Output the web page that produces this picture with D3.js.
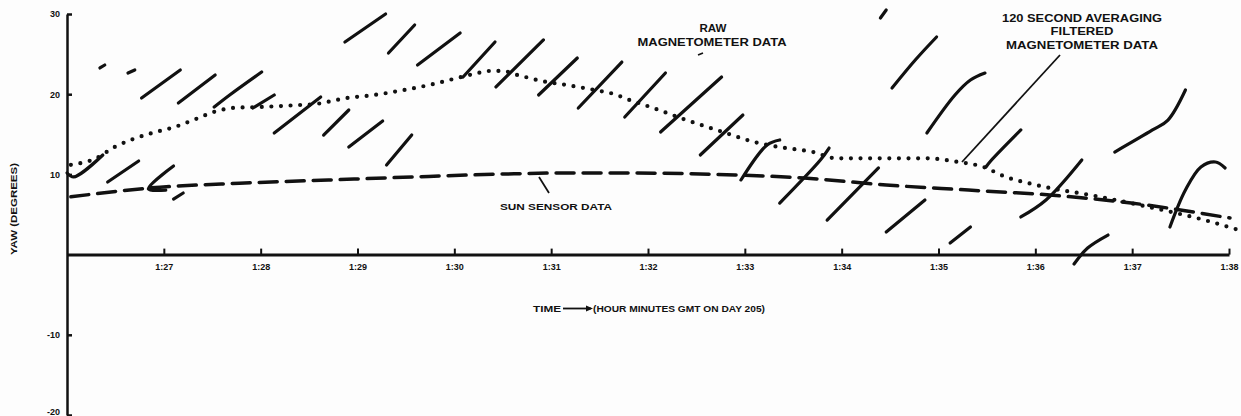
<!DOCTYPE html>
<html>
<head>
<meta charset="utf-8">
<script src="https://cdn.jsdelivr.net/npm/d3@7"></script>
<style>
  html, body { margin: 0; padding: 0; background: #fdfdfd; }
  svg { display: block; }
  text { font-family: "Liberation Sans", Arial, sans-serif; font-weight: bold; fill: #111; }
</style>
</head>
<body>
<svg id="chart" width="1241" height="416"></svg>
<script>
// ---- data (time = minutes after 1:00 GMT, yaw in degrees) ----
const xTickValues = [27, 28, 29, 30, 31, 32, 33, 34, 35, 36, 37, 38];
const xTickLabels = ["1:27", "1:28", "1:29", "1:30", "1:31", "1:32", "1:33", "1:34", "1:35", "1:36", "1:37", "1:38"];
const yTickValues = [30, 20, 10, -10, -20];
const yTickLabels = ["30", "20", "10", "-10", "-20"];

// 120 second averaging filtered magnetometer data (dotted)
const filteredTime = [26.04, 26.30, 26.49, 26.66, 26.89, 27.11, 27.33, 27.52, 27.73, 27.99, 28.32, 28.58, 28.88, 29.17, 29.47, 29.76, 30.09, 30.23, 30.37, 30.50, 30.65, 30.78, 30.88, 31.13, 31.46, 31.68, 31.76, 32.05, 32.39, 32.77, 33.11, 33.36, 33.70, 33.95, 34.46, 34.88, 35.18, 35.47, 35.69, 35.93, 36.15, 36.58, 36.99, 37.41, 37.75, 38.09];
const filteredYaw  = [11.2, 12.0, 13.4, 14.3, 15.2, 15.9, 16.9, 17.8, 18.3, 18.4, 18.6, 18.8, 19.5, 19.9, 20.5, 21.2, 22.2, 22.6, 22.9, 22.9, 22.4, 22.0, 21.7, 21.2, 20.5, 19.9, 19.5, 18.3, 16.8, 15.3, 14.0, 13.4, 12.8, 12.0, 12.0, 12.0, 11.6, 10.9, 9.7, 8.9, 8.3, 7.4, 6.4, 5.3, 4.3, 3.1];

// sun sensor data (dashed)
const sunTime = [26.04, 26.85, 27.78, 28.70, 29.61, 30.53, 31.09, 31.71, 32.90, 33.61, 34.46, 35.31, 36.15, 36.99, 38.01];
const sunYaw  = [7.2, 8.3, 8.9, 9.3, 9.7, 10.05, 10.17, 10.17, 9.93, 9.55, 8.68, 8.05, 7.43, 6.43, 4.56];

// raw magnetometer data: individual pen strokes, each a list of [time, yaw]
const rawStrokes = [
  [[26.00, 10.17], [26.07, 9.68], [26.37, 12.42]],
  [[26.42, 9.05], [26.74, 11.67]],
  [[27.10, 11.05], [26.84, 8.18], [27.02, 8.05]],
  [[27.10, 6.93], [27.20, 7.68]],
  [[26.34, 23.27], [26.39, 23.64]],
  [[26.63, 22.64], [26.70, 23.02]],
  [[26.77, 19.53], [27.17, 23.02]],
  [[27.15, 18.90], [27.53, 22.39]],
  [[27.52, 18.40], [27.68, 19.90], [28.01, 22.77]],
  [[27.92, 18.28], [28.14, 19.90]],
  [[28.14, 15.16], [28.62, 19.65]],
  [[28.65, 14.91], [28.91, 18.03]],
  [[28.91, 13.42], [29.26, 16.66]],
  [[29.30, 11.17], [29.56, 14.91]],
  [[28.87, 26.51], [29.29, 30.00]],
  [[29.32, 25.14], [29.59, 28.63]],
  [[29.62, 23.64], [30.06, 27.63]],
  [[30.09, 22.14], [30.42, 26.51]],
  [[30.43, 20.90], [30.92, 26.76]],
  [[30.87, 19.90], [31.27, 24.51]],
  [[31.28, 18.28], [31.73, 24.01]],
  [[31.76, 17.16], [32.18, 22.64]],
  [[32.13, 15.29], [32.76, 22.14]],
  [[32.54, 12.42], [32.98, 17.41]],
  [[32.96, 9.30], [33.23, 13.67], [33.36, 14.29]],
  [[33.36, 6.43], [33.78, 11.80], [33.87, 13.29]],
  [[33.85, 4.31], [34.38, 10.80]],
  [[34.46, 2.82], [34.86, 6.81]],
  [[35.12, 1.45], [35.33, 3.44]],
  [[34.52, 20.77], [34.76, 24.26], [34.98, 27.13]],
  [[34.88, 15.16], [35.17, 19.90], [35.33, 21.77], [35.48, 22.64]],
  [[34.40, 29.50], [34.46, 30.50]],
  [[35.49, 10.92], [35.53, 11.55], [35.85, 15.54]],
  [[35.85, 4.69], [36.11, 6.81], [36.48, 11.80]],
  [[36.40, -1.17], [36.54, 0.82], [36.75, 2.44]],
  [[36.82, 12.79], [37.21, 15.54], [37.37, 16.78], [37.55, 20.52]],
  [[37.39, 3.44], [37.55, 8.05], [37.71, 10.92], [37.86, 11.55], [37.96, 10.80]]
];

// annotations
const labelRaw = ["RAW", "MAGNETOMETER DATA"];
const labelFiltered = ["120 SECOND AVERAGING", "FILTERED", "MAGNETOMETER DATA"];
const labelSun = "SUN SENSOR DATA";
const xTitleLeft = "TIME";
const xTitleRight = "(HOUR MINUTES GMT ON DAY 205)";
const yTitle = "YAW (DEGREES)";

// ---- drawing ----
const svg = d3.select("#chart");
const ink = "#111";
const x = d3.scaleLinear().domain([26, 38]).range([67, 1229]);
const y = d3.scaleLinear().domain([-20, 30]).range([415, 14]);

// axes
const xAxis = d3.axisBottom(x)
  .tickValues(xTickValues)
  .tickFormat((d, i) => xTickLabels[i])
  .tickSizeInner(-6).tickSizeOuter(0).tickPadding(9);
const gx = svg.append("g").attr("transform", `translate(0,${y(0)})`).call(xAxis);
gx.select(".domain").attr("stroke", ink).attr("stroke-width", 3);
gx.selectAll(".tick line").attr("stroke", ink).attr("stroke-width", 2);
gx.selectAll(".tick text").attr("font-size", 9).attr("fill", ink).attr("font-family", "Liberation Sans").attr("font-weight", "bold");

const yAxis = d3.axisLeft(y)
  .tickValues(yTickValues)
  .tickFormat((d, i) => yTickLabels[i])
  .tickSizeInner(-5).tickSizeOuter(0).tickPadding(7);
const gy = svg.append("g").attr("transform", `translate(${x(26)},0)`).call(yAxis);
gy.select(".domain").attr("stroke", ink).attr("stroke-width", 2.5);
gy.selectAll(".tick line").attr("stroke", ink).attr("stroke-width", 2.5);
gy.selectAll(".tick text").attr("font-size", 9).attr("fill", ink).attr("font-family", "Liberation Sans").attr("font-weight", "bold");
// keep the bottom label inside the picture
gy.selectAll(".tick text").filter(d => d === -20).attr("dy", "-0.1em");

// sun sensor dashed line
const line = d3.line().x(d => x(d[0])).y(d => y(d[1])).curve(d3.curveMonotoneX);
svg.append("path")
  .datum(sunTime.map((t, i) => [t, sunYaw[i]]))
  .attr("d", line)
  .attr("fill", "none").attr("stroke", ink)
  .attr("stroke-width", 3.5).attr("stroke-dasharray", "18 9").attr("stroke-linecap", "round");

// filtered dotted line
svg.append("path")
  .datum(filteredTime.map((t, i) => [t, filteredYaw[i]]))
  .attr("d", line)
  .attr("fill", "none").attr("stroke", ink)
  .attr("stroke-width", 4.2).attr("stroke-dasharray", "0 9.6").attr("stroke-linecap", "round");

// raw magnetometer strokes
const strokeLine = d3.line().x(d => x(d[0])).y(d => y(d[1])).curve(d3.curveCatmullRom.alpha(0.5));
svg.append("g").selectAll("path").data(rawStrokes).join("path")
  .attr("d", strokeLine)
  .attr("fill", "none").attr("stroke", ink)
  .attr("stroke-width", 3.2).attr("stroke-linecap", "round").attr("stroke-linejoin", "round");

// text annotations
function label(txt, cx, by, w, size) {
  svg.append("text").attr("x", cx - w / 2).attr("y", by)
    .attr("font-size", size).attr("textLength", w).attr("lengthAdjust", "spacingAndGlyphs")
    .text(txt);
}
label(labelRaw[0], 713, 31.5, 27, 10);
label(labelRaw[1], 712, 45.5, 149, 10);
label(labelFiltered[0], 1082, 21.5, 160, 10);
label(labelFiltered[1], 1082, 35, 63, 10);
label(labelFiltered[2], 1082, 49, 152, 10);
label(labelSun, 556, 210, 112, 9.5);

// leader lines
const leaders = [
  [[698, 55], [703, 53]],
  [[962, 162], [1060, 55]],
  [[539, 177], [549, 193]]
];
svg.append("g").selectAll("path").data(leaders).join("path")
  .attr("d", d => d3.line()(d))
  .attr("stroke", ink).attr("stroke-width", 1.8).attr("fill", "none");

// x title with arrow
label(xTitleLeft, 547, 312, 28, 9.5);
svg.append("path").attr("d", "M563,308.5 L591,308.5").attr("stroke", ink).attr("stroke-width", 1.8);
svg.append("path").attr("d", "M586,305.5 L593,308.5 L586,311.5 Z").attr("fill", ink);
label(xTitleRight, 679, 312, 172, 9.5);

// y title
svg.append("text")
  .attr("transform", "translate(17,209) rotate(-90)")
  .attr("x", -46).attr("y", 0)
  .attr("font-size", 9.5).attr("textLength", 92).attr("lengthAdjust", "spacingAndGlyphs")
  .text(yTitle);
</script>
</body>
</html>
